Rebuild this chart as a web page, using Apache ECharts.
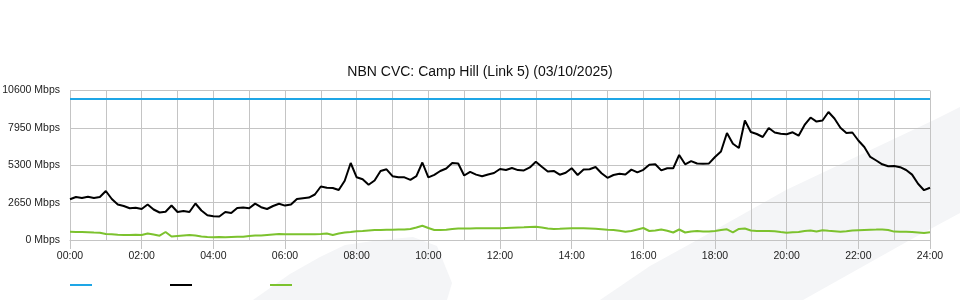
<!DOCTYPE html>
<html>
<head>
<meta charset="utf-8">
<script src="https://cdn.jsdelivr.net/npm/echarts@6/dist/echarts.min.js"></script>
<style>html,body{margin:0;padding:0;background:#fff;}#c{width:960px;height:300px;}</style>
</head>
<body>
<div id="c"></div>
<script>
// 10-minute samples from 00:00 to 24:00 (145 points), Mbps
const titleText = 'NBN CVC: Camp Hill (Link 5) (03/10/2025)';
const yTicks = [0, 2650, 5300, 7950, 10600];
const xTickLabels = ['00:00','02:00','04:00','06:00','08:00','10:00','12:00','14:00','16:00','18:00','20:00','22:00','24:00'];
const capacity = 10000;
const download = [
2886,3049,2978,3070,2978,3049,3474,2907,2517,2411,2248,2283,2198,2517,2162,1950,2006,2446,1985,2056,
1985,2588,2092,1758,1687,1666,1985,1914,2269,2297,2248,2581,2326,2198,2411,2574,2439,2510,2907,2964,
3006,3226,3793,3701,3687,3545,4197,5459,4445,4304,3914,4219,4892,5013,4523,4445,4445,4268,4523,5495,
4445,4623,4892,5069,5459,5424,4573,4835,4637,4523,4644,4750,5034,4963,5105,4956,4935,5147,5544,5190,
4857,4899,4630,4764,5091,4609,4991,5020,5176,4736,4410,4609,4694,4637,4991,4793,4977,5332,5367,4935,
5084,5084,6027,5367,5594,5424,5410,5431,5885,6275,7586,6828,6523,8473,7657,7515,7303,7941,7622,7530,
7501,7636,7395,8154,8685,8395,8473,9075,8614,7962,7586,7622,7055,6594,5892,5637,5367,5225,5247,5162,
4963,4637,3985,3531,3708
];
const upload = [
588,567,567,553,532,518,425,404,369,355,355,369,355,461,390,305,567,248,284,319,
355,319,248,213,191,213,191,213,234,234,284,319,319,355,390,425,404,404,404,404,
404,411,425,461,355,461,532,567,617,638,674,709,709,723,723,745,745,780,886,1007,
851,709,709,730,780,815,815,815,830,830,830,830,830,851,872,886,900,922,943,886,
815,780,794,815,830,830,830,815,794,766,723,709,652,588,638,745,851,638,674,745,
652,532,745,532,603,638,603,603,638,709,759,546,780,815,674,638,638,638,624,567,
518,546,567,638,674,603,695,652,624,588,624,674,695,709,723,737,752,709,596,588,
588,567,532,496,546
];

const hours = download.map((_, i) => i / 6);
const capData = hours.map(h => [h, capacity]);
const dlData = hours.map((h, i) => [h, download[i]]);
const ulData = hours.map((h, i) => [h, upload[i]]);

const FONT = "'Liberation Sans', Arial, sans-serif";
const GRID = '#c4c4c4';
const WM = '#f4f5f7';

const legendBase = {top: 284, padding: 0, itemWidth: 22, itemHeight: 2, icon: 'rect', formatter: () => ''};

const chart = echarts.init(document.getElementById('c'), null, {renderer: 'canvas'});
chart.setOption({
  animation: false,
  backgroundColor: '#fff',
  textStyle: {fontFamily: FONT},
  title: {
    text: titleText, left: 'center', top: 60,
    textStyle: {fontFamily: FONT, fontSize: 14, fontWeight: 'normal', color: '#111'}
  },
  graphic: [
    {type: 'polygon', z: -10, silent: true,
     shape: {points: [[253,300],[290,274],[320,257],[345,245],[380,240],[413,237],[437,246],[452,283],[447,300]]},
     style: {fill: WM}},
    {type: 'polygon', z: -10, silent: true,
     shape: {points: [[600,300],[650,266],[690,244],[786,190],[934,120],[960,107],[960,213],[910,240],[803,300]]},
     style: {fill: WM}}
  ],
  legend: [
    Object.assign({data: ['Capacity'], left: 70}, legendBase),
    Object.assign({data: ['Download'], left: 170}, legendBase),
    Object.assign({data: ['Upload'], left: 270}, legendBase)
  ],
  grid: {left: 70, right: 30, top: 90.5, bottom: 60, containLabel: false, outerBoundsMode: 'none'},
  xAxis: {
    type: 'value', min: 0, max: 24, interval: 2,
    axisLine: {show: true, lineStyle: {color: GRID, width: 1}},
    axisTick: {show: true, length: 9, lineStyle: {color: GRID}},
    axisLabel: {
      margin: 11, fontSize: 10.5, color: '#222', fontFamily: FONT,
      formatter: v => xTickLabels[Math.round(v / 2)]
    },
    splitLine: {show: true, lineStyle: {color: GRID, width: 1}},
    minorTick: {show: false, splitNumber: 2},
    minorSplitLine: {show: true, lineStyle: {color: GRID, width: 1}}
  },
  yAxis: {
    type: 'value', min: yTicks[0], max: yTicks[yTicks.length - 1], interval: 2650,
    axisLine: {show: false},
    axisTick: {show: false},
    axisLabel: {margin: 10, fontSize: 10.5, color: '#222', fontFamily: FONT, formatter: v => v + ' Mbps'},
    splitLine: {show: true, lineStyle: {color: GRID, width: 1}}
  },
  series: [
    {name: 'Capacity', type: 'line', data: capData, showSymbol: false, color: '#1ea6e6',
     lineStyle: {width: 2, color: '#1ea6e6'}, z: 3},
    {name: 'Download', type: 'line', data: dlData, showSymbol: false, color: '#000',
     lineStyle: {width: 2, color: '#000'}, z: 4},
    {name: 'Upload', type: 'line', data: ulData, showSymbol: false, color: '#7cc22e',
     lineStyle: {width: 2, color: '#7cc22e'}, z: 3}
  ]
});
</script>
</body>
</html>
